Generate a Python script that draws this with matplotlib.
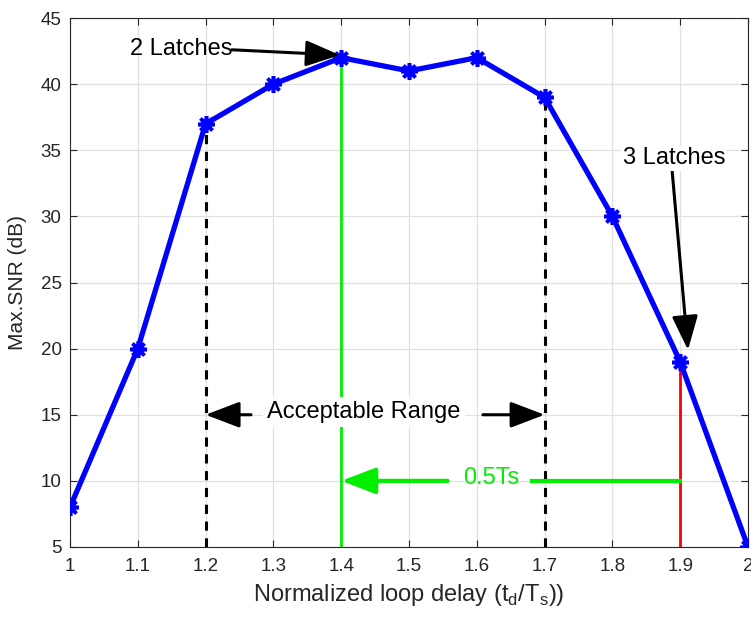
import matplotlib
matplotlib.use("Agg")
import matplotlib.pyplot as plt

x = [1.0, 1.1, 1.2, 1.3, 1.4, 1.5, 1.6, 1.7, 1.8, 1.9, 2.0]
snr = [8, 20, 37, 40, 42, 41, 42, 39, 30, 19, 5]
xticks = [1, 1.1, 1.2, 1.3, 1.4, 1.5, 1.6, 1.7, 1.8, 1.9, 2]
xticklabels = ["1", "1.1", "1.2", "1.3", "1.4", "1.5", "1.6", "1.7", "1.8", "1.9", "2"]
yticks = [5, 10, 15, 20, 25, 30, 35, 40, 45]

range_lo, range_hi = 1.2, 1.7
snr_lo, snr_hi = 37, 39
peak_x, peak_y = 1.4, 42
latch3_x, latch3_y = 1.9, 19

plt.rcParams['font.family'] = ['Liberation Sans', 'DejaVu Sans']
fig = plt.figure(figsize=(7.51, 6.22), dpi=100)
ax = fig.add_axes([0.0932, 0.1206, 0.9028, 0.8504])

txtc = '#262626'
green = '#00ee00'
ax.plot(x, snr, color='blue', lw=3.8, marker=(8, 2, 0), ms=12, mew=2.6, zorder=5)

ax.vlines([range_lo], 5, snr_lo, colors='black', linestyles=(0, (3, 2.5)), lw=2.2, zorder=3)
ax.vlines([range_hi], 5, snr_hi, colors='black', linestyles=(0, (3, 2.5)), lw=2.2, zorder=3)
ax.vlines([peak_x], 5, peak_y, colors=green, lw=2, zorder=2)
ax.vlines([latch3_x], 5, latch3_y, colors='red', lw=2, zorder=3)

ax.set_xlim(1, 2)
ax.set_ylim(5, 45)
ax.set_xticks(xticks)
ax.set_xticklabels(xticklabels)
ax.set_yticks(yticks)
ax.grid(True, color='#e0e0e0', lw=0.9)
ax.set_axisbelow(True)
ax.tick_params(direction='in', top=True, right=True, labelsize=13.5, colors=txtc, length=5)
ax.tick_params(axis='x', pad=8)
ax.tick_params(axis='y', pad=6)
for s in ax.spines.values():
    s.set_color('#262626')
ax.set_xlabel('Normalized loop delay (t$_\\mathregular{d}$/T$_\\mathregular{s}$))', fontsize=17, color=txtc, labelpad=5)
ax.set_ylabel('Max.SNR (dB)', fontsize=15, color=txtc, labelpad=10)

hs = '-|>,head_length=1.05,head_width=0.4'
ap_black = dict(arrowstyle=hs, color='black', lw=2.2, shrinkA=0, shrinkB=0, mutation_scale=20)
ap_green = dict(arrowstyle=hs, color=green, lw=3, shrinkA=0, shrinkB=0, mutation_scale=20)

fs = 17

# 2 Latches
ax.annotate('', xy=(1.398, 42.2), xytext=(1.239, 42.6), arrowprops=ap_black, zorder=6)
ax.text(1.239, 42.66, '2 Latches', ha='right', va='center', fontsize=fs, color='black', zorder=7)

# 3 Latches
ax.annotate('', xy=(1.9115, 19.9), xytext=(1.888, 33.5), arrowprops=ap_black, zorder=6)
ax.text(1.891, 34.4, '3 Latches', ha='center', va='center', fontsize=fs, color='black', zorder=7,
        bbox=dict(facecolor='white', edgecolor='none', pad=1))

# Acceptable range
ax.annotate('', xy=(range_lo, 15), xytext=(1.267, 15), arrowprops=ap_black, zorder=6)
ax.annotate('', xy=(range_hi, 15), xytext=(1.609, 15), arrowprops=ap_black, zorder=6)
ax.text(1.433, 15.2, 'Acceptable Range', ha='center', va='center', fontsize=fs, color='black', zorder=7,
        bbox=dict(facecolor='white', edgecolor='none', pad=3))

# 0.5Ts
ax.annotate('', xy=(peak_x, 10), xytext=(1.557, 10), arrowprops=ap_green, zorder=6)
ax.plot([1.681, latch3_x], [10, 10], color=green, lw=3, zorder=4)
ax.text(1.621, 10.2, '0.5Ts', ha='center', va='center', fontsize=fs, color=green, zorder=7)

fig.savefig('out.png', dpi=100)
